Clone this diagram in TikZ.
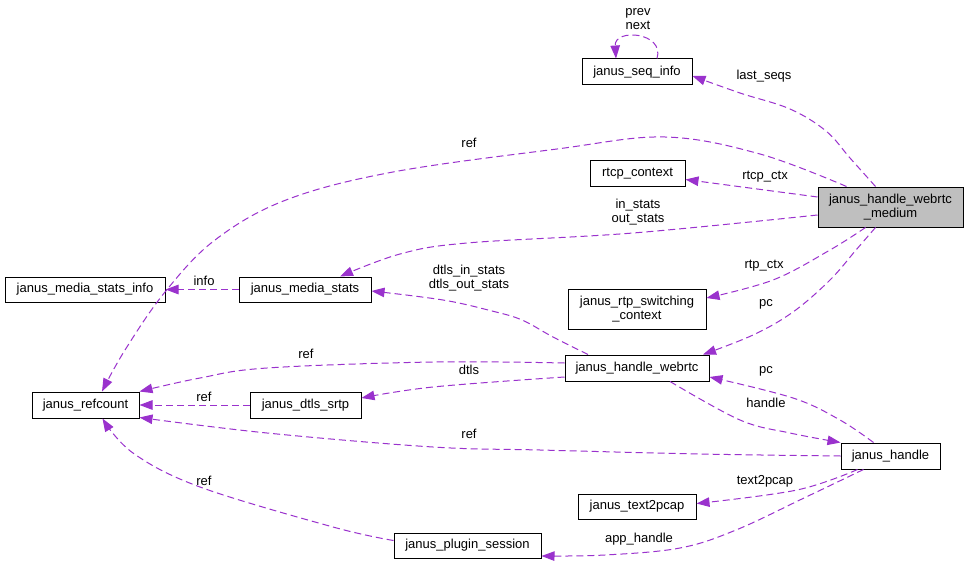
\documentclass[tikz,border=0pt]{standalone}
\usepackage{fontspec}
\setmainfont{Liberation Sans}
\usetikzlibrary{arrows.meta,calc}
\definecolor{edgec}{HTML}{9A32CD}
\definecolor{medfill}{HTML}{BFBFBF}
\begin{document}
\begin{tikzpicture}[x=1pt,y=-1pt,
  box/.style={draw=black, line width=1pt, fill=white, inner sep=0pt,
    font=\fontsize{13}{14}\selectfont, align=center},
  edge/.style={draw=edgec, line width=1pt, dash pattern=on 7pt off 4pt,
    -{Triangle[length=13pt,width=9.5pt]}},
  lbl/.style={font=\fontsize{13}{14}\selectfont, inner sep=0pt, align=center}]
\fill[white] (0,0) rectangle (968,564);
\useasboundingbox (0,0) rectangle (968,564);

% nodes
\node[box, minimum width=110pt, minimum height=26pt] (seq) at (637,72) {janus\_seq\_info};
\node[box, minimum width=95pt, minimum height=25pt] (rtcp) at (637.5,173.5) {rtcp\_context};
\node[box, fill=medfill, minimum width=145pt, minimum height=40pt] (med) at (890.5,207) {janus\_handle\_webrtc\\\_medium};
\node[box, minimum width=160pt, minimum height=25pt] (msi) at (85,289.5) {janus\_media\_stats\_info};
\node[box, minimum width=132pt, minimum height=25pt] (ms) at (305,289.5) {janus\_media\_stats};
\node[box, minimum width=138pt, minimum height=40pt] (rtp) at (637,309) {janus\_rtp\_switching\\\_context};
\node[box, minimum width=144pt, minimum height=26pt] (hw) at (637,368) {janus\_handle\_webrtc};
\node[box, minimum width=107pt, minimum height=26pt] (ref) at (85.5,405) {janus\_refcount};
\node[box, minimum width=111pt, minimum height=26pt] (dtls) at (305.5,405) {janus\_dtls\_srtp};
\node[box, minimum width=99pt, minimum height=26pt] (hdl) at (890.5,456) {janus\_handle};
\node[box, minimum width=118pt, minimum height=25pt] (t2p) at (637,506.5) {janus\_text2pcap};
\node[box, minimum width=147pt, minimum height=25pt] (plug) at (467.5,545.5) {janus\_plugin\_session};

% edge end points on the nodes
\coordinate (e1s) at ($(med.north)+(-15,0)$);
\coordinate (e1e) at ($(seq.east)+(0,4)$);
\coordinate (e2s) at ($(seq.north)+(20,0)$);
\coordinate (e2e) at ($(seq.north)+(-21,0)$);
\coordinate (e3s) at ($(med.west)+(0,-10)$);
\coordinate (e3e) at ($(rtcp.east)+(0,6)$);
\coordinate (e4s) at ($(med.north west)+(29,0)$);
\coordinate (e4e) at ($(ref.north)+(16.5,0)$);
\coordinate (e5s) at ($(med.west)+(0,8)$);
\coordinate (e5e) at ($(ms.north)+(35,0)$);
\coordinate (e7s) at ($(hw.north)+(-49,0)$);
\coordinate (e7e) at ($(ms.east)+(0,1.5)$);
\coordinate (e8s) at ($(med.south)+(-25,0)$);
\coordinate (e8e) at ($(rtp.east)+(0,-11)$);
\coordinate (e9s) at ($(med.south)+(-15,0)$);
\coordinate (e9e) at ($(hw.north)+(66,0)$);
\coordinate (e10s) at ($(hdl.north)+(-17,0)$);
\coordinate (e10e) at ($(hw.east)+(0,9)$);
\coordinate (e11s) at ($(hw.south)+(33,0)$);
\coordinate (e12s) at ($(hw.west)+(0,-5)$);
\coordinate (e13s) at ($(hw.west)+(0,9)$);
\coordinate (e13e) at ($(dtls.east)+(0,-7)$);
\coordinate (e15e) at ($(ref.south east)+(0,-1)$);
\coordinate (e16s) at ($(plug.west)+(0,-5)$);
\coordinate (e16e) at ($(ref.south)+(17,0)$);
\coordinate (e17s) at ($(hdl.south)+(-33,0)$);
\coordinate (e17e) at ($(t2p.east)+(0,-3)$);
\coordinate (e18s) at ($(hdl.south)+(-27,0)$);
\coordinate (e18e) at ($(plug.east)+(0,10.5)$);

% edges
\draw[edge] plot[smooth, tension=0.6] coordinates {(e1s) (850,158) (826,131) (790,109) (740,93) (e1e)};
\draw[edge] (e2s) .. controls (665,32) and (614,28) .. (e2e);
\draw[edge] (e3s) -- (e3e);
\draw[edge] plot[smooth, tension=0.6] coordinates {(e4s) (760,154) (665,137) (557,149) (393,172) (286,200) (215,240) (165,292) (125,350) (e4e)};
\draw[edge] plot[smooth, tension=0.6] coordinates {(e5s) (633,233) (467,243) (400,254) (e5e)};
\draw[edge] (ms.west) -- (msi.east);
\draw[edge] plot[smooth, tension=0.6] coordinates {(e7s) (553,337) (522,320) (492,311) (443,300) (e7e)};
\draw[edge] plot[smooth, tension=0.6] coordinates {(e8s) (830,250) (773,280) (e8e)};
\draw[edge] plot[smooth, tension=0.6] coordinates {(e9s) (856,250) (830,280) (793,312) (753,335) (e9e)};
\draw[edge] plot[smooth, tension=0.6] coordinates {(e10s) (840,420) (793,398) (e10e)};
\draw[edge] plot[smooth, tension=0.6] coordinates {(e11s) (740,420) (790,433) (hdl.north west)};
\draw[edge] plot[smooth, tension=0.6] coordinates {(e12s) (433,362) (267,368) (200,378) (ref.north east)};
\draw[edge] plot[smooth, tension=0.6] coordinates {(e13s) (433,387) (e13e)};
\draw[edge] (dtls.west) -- (ref.east);
\draw[edge] plot[smooth, tension=0.6] coordinates {(hdl.west) (700,454) (540,450) (433,447) (267,433) (e15e)};
\draw[edge] plot[smooth, tension=0.6] coordinates {(e16s) (333,527) (200,487) (133,453) (e16e)};
\draw[edge] plot[smooth, tension=0.6] coordinates {(e17s) (797,490) (e17e)};
\draw[edge] plot[smooth, tension=0.6] coordinates {(e18s) (804,498) (736,530) (680,548) (605,555) (e18e)};

% labels
\node[lbl] (l2) at (638,19) {prev\\next};
\node[lbl] (l1) at (764,76) {last\_seqs};
\node[lbl] (l4) at (469,143) {ref};
\node[lbl] (l3) at (765,177) {rtcp\_ctx};
\node[lbl] (l5) at (638,212) {in\_stats\\out\_stats};
\node[lbl] (l6) at (204,281) {info};
\node[lbl] (l7) at (469,278) {dtls\_in\_stats\\dtls\_out\_stats};
\node[lbl] (l8) at (764,266) {rtp\_ctx};
\node[lbl] (l9) at (766,304) {pc};
\node[lbl] (l12) at (306,354) {ref};
\node[lbl] (l13) at (469,370) {dtls};
\node[lbl] (l10) at (766,371) {pc};
\node[lbl] (l14) at (204,397) {ref};
\node[lbl] (l11) at (766,403) {handle};
\node[lbl] (l15) at (469,434) {ref};
\node[lbl] (l16) at (204,481) {ref};
\node[lbl] (l17) at (765,481) {text2pcap};
\node[lbl] (l18) at (639,539) {app\_handle};
\end{tikzpicture}
\end{document}
